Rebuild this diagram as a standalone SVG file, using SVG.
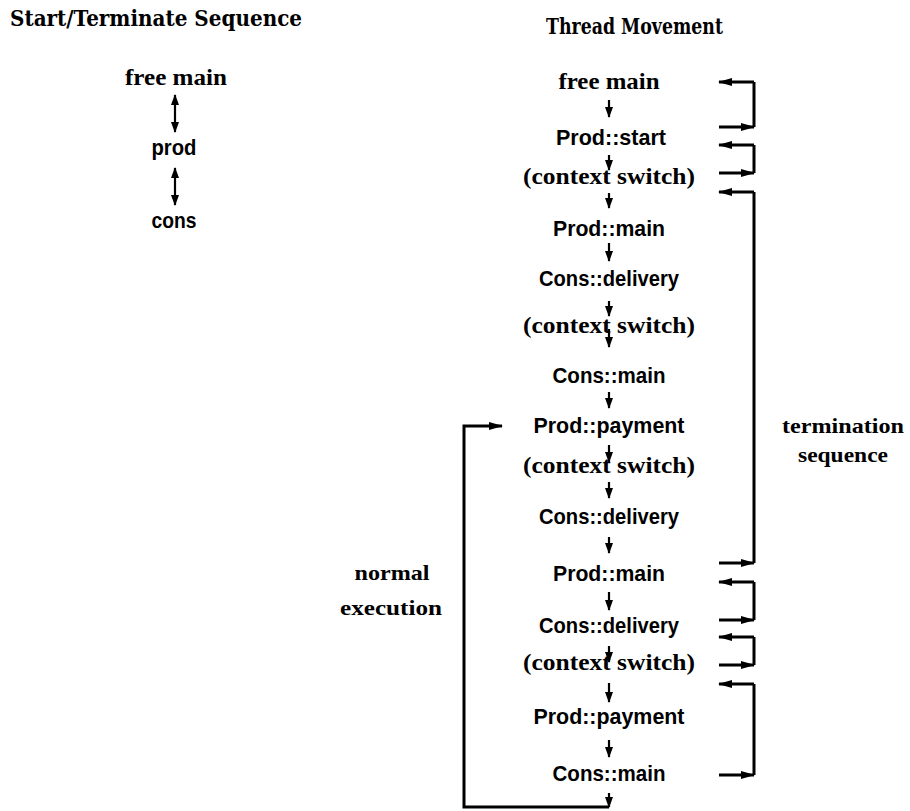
<svg xmlns="http://www.w3.org/2000/svg" width="910" height="811" viewBox="0 0 910 811">
<style>
.title{font-family:"DejaVu Serif","Liberation Serif",serif;font-weight:bold;font-size:22px;fill:#000}
.side{font-family:"Liberation Serif","DejaVu Serif",serif;font-weight:bold;font-size:22px;fill:#000}
.ser{font-family:"Liberation Serif","DejaVu Serif",serif;font-weight:bold;font-size:23px;fill:#000;text-anchor:middle}
.sans{font-family:"Liberation Sans","DejaVu Sans",sans-serif;font-weight:bold;font-size:22px;fill:#000;text-anchor:middle}
.ctr{text-anchor:middle}
.dn{stroke:#000;stroke-width:2.2;fill:none;marker-end:url(#ah)}
.dbl{stroke:#000;stroke-width:2.2;fill:none;marker-end:url(#ah);marker-start:url(#ah)}
.br{stroke:#000;stroke-width:3;fill:none}
.brA{stroke:#000;stroke-width:3;fill:none;marker-end:url(#ah2)}
</style>
<defs>
<marker id="ah" markerUnits="userSpaceOnUse" markerWidth="12" markerHeight="9" viewBox="0 0 11 9" refX="10" refY="4.5" orient="auto-start-reverse">
<path d="M0,0.5 L11,4.5 L0,8.5 z" fill="#000"/>
</marker>
<marker id="ah2" markerUnits="userSpaceOnUse" markerWidth="14" markerHeight="9" viewBox="0 0 14 9" refX="13" refY="4.5" orient="auto">
<path d="M0,0.5 L14,4.5 L0,8.5 z" fill="#000"/>
</marker>
</defs>

<g id="titles">
<text class="title" x="10" y="26" textLength="292" lengthAdjust="spacingAndGlyphs">Start/Terminate Sequence</text>
<text class="title" x="546" y="34" textLength="177" lengthAdjust="spacingAndGlyphs">Thread Movement</text>
</g>

<g id="left-free-main"><text class="ser" x="176" y="85" textLength="102" lengthAdjust="spacingAndGlyphs">free main</text></g>
<g id="left-prod"><text class="sans" x="174" y="155" textLength="45" lengthAdjust="spacingAndGlyphs">prod</text></g>
<g id="left-cons"><text class="sans" x="174" y="228" textLength="45" lengthAdjust="spacingAndGlyphs">cons</text></g>

<g id="n1"><text class="ser" x="609" y="89" textLength="101" lengthAdjust="spacingAndGlyphs">free main</text></g>
<g id="n2"><text class="sans" x="611" y="145" textLength="110" lengthAdjust="spacingAndGlyphs">Prod::start</text></g>
<g id="n3"><text class="ser" x="609" y="184" textLength="172" lengthAdjust="spacingAndGlyphs">(context switch)</text></g>
<g id="n4"><text class="sans" x="609" y="236" textLength="112" lengthAdjust="spacingAndGlyphs">Prod::main</text></g>
<g id="n5"><text class="sans" x="609" y="286" textLength="140" lengthAdjust="spacingAndGlyphs">Cons::delivery</text></g>
<g id="n6"><text class="ser" x="609" y="333" textLength="172" lengthAdjust="spacingAndGlyphs">(context switch)</text></g>
<g id="n7"><text class="sans" x="609" y="383" textLength="113" lengthAdjust="spacingAndGlyphs">Cons::main</text></g>
<g id="n8"><text class="sans" x="609" y="433" textLength="151" lengthAdjust="spacingAndGlyphs">Prod::payment</text></g>
<g id="n9"><text class="ser" x="609" y="473" textLength="172" lengthAdjust="spacingAndGlyphs">(context switch)</text></g>
<g id="n10"><text class="sans" x="609" y="524" textLength="140" lengthAdjust="spacingAndGlyphs">Cons::delivery</text></g>
<g id="n11"><text class="sans" x="609" y="581" textLength="112" lengthAdjust="spacingAndGlyphs">Prod::main</text></g>
<g id="n12"><text class="sans" x="609" y="633" textLength="140" lengthAdjust="spacingAndGlyphs">Cons::delivery</text></g>
<g id="n13"><text class="ser" x="609" y="670" textLength="172" lengthAdjust="spacingAndGlyphs">(context switch)</text></g>
<g id="n14"><text class="sans" x="609" y="724" textLength="151" lengthAdjust="spacingAndGlyphs">Prod::payment</text></g>
<g id="n15"><text class="sans" x="609" y="781" textLength="113" lengthAdjust="spacingAndGlyphs">Cons::main</text></g>

<g id="labels">
<text class="side ctr" x="843" y="433" textLength="122" lengthAdjust="spacingAndGlyphs">termination</text>
<text class="side ctr" x="843" y="462" textLength="90" lengthAdjust="spacingAndGlyphs">sequence</text>
<text class="side ctr" x="392" y="580" textLength="75" lengthAdjust="spacingAndGlyphs">normal</text>
<text class="side ctr" x="391" y="615" textLength="102" lengthAdjust="spacingAndGlyphs">execution</text>
</g>

<g id="connectors">
<path class="dbl" d="M175,95 L175,132"/>
<path class="dbl" d="M175,168 L175,205"/>

<path class="dn" d="M609,100 L609,117"/>
<path class="dn" d="M609,155 L609,170"/>
<path class="dn" d="M609,193 L609,208"/>
<path class="dn" d="M609,243 L609,261"/>
<path class="dn" d="M609,301 L609,316"/>
<path class="dn" d="M609,329 L609,347"/>
<path class="dn" d="M609,392 L609,408"/>
<path class="dn" d="M609,445 L609,462"/>
<path class="dn" d="M609,482 L609,498"/>
<path class="dn" d="M609,537 L609,553"/>
<path class="dn" d="M609,592 L609,610"/>
<path class="dn" d="M609,646 L609,662"/>
<path class="dn" d="M609,683 L609,702"/>
<path class="dn" d="M609,740 L609,757"/>
<path class="dn" d="M609,793 L609,807"/>

<path class="brA" d="M754,82 L719,82"/>
<path class="br" d="M754,82 L754,127"/>
<path class="brA" d="M719,127 L754,127"/>

<path class="brA" d="M754,145 L719,145"/>
<path class="br" d="M754,145 L754,173"/>
<path class="brA" d="M719,173 L754,173"/>

<path class="brA" d="M754,192 L719,192"/>
<path class="br" d="M754,192 L754,563"/>
<path class="brA" d="M719,563 L754,563"/>

<path class="brA" d="M754,582 L719,582"/>
<path class="br" d="M754,582 L754,620"/>
<path class="brA" d="M719,620 L754,620"/>

<path class="brA" d="M754,637 L719,637"/>
<path class="br" d="M754,637 L754,665"/>
<path class="brA" d="M719,665 L754,665"/>

<path class="brA" d="M754,684 L719,684"/>
<path class="br" d="M754,684 L754,775"/>
<path class="brA" d="M719,775 L754,775"/>

<path class="brA" d="M609,807 L464,807 L464,426 L502,426"/>
</g>
</svg>
